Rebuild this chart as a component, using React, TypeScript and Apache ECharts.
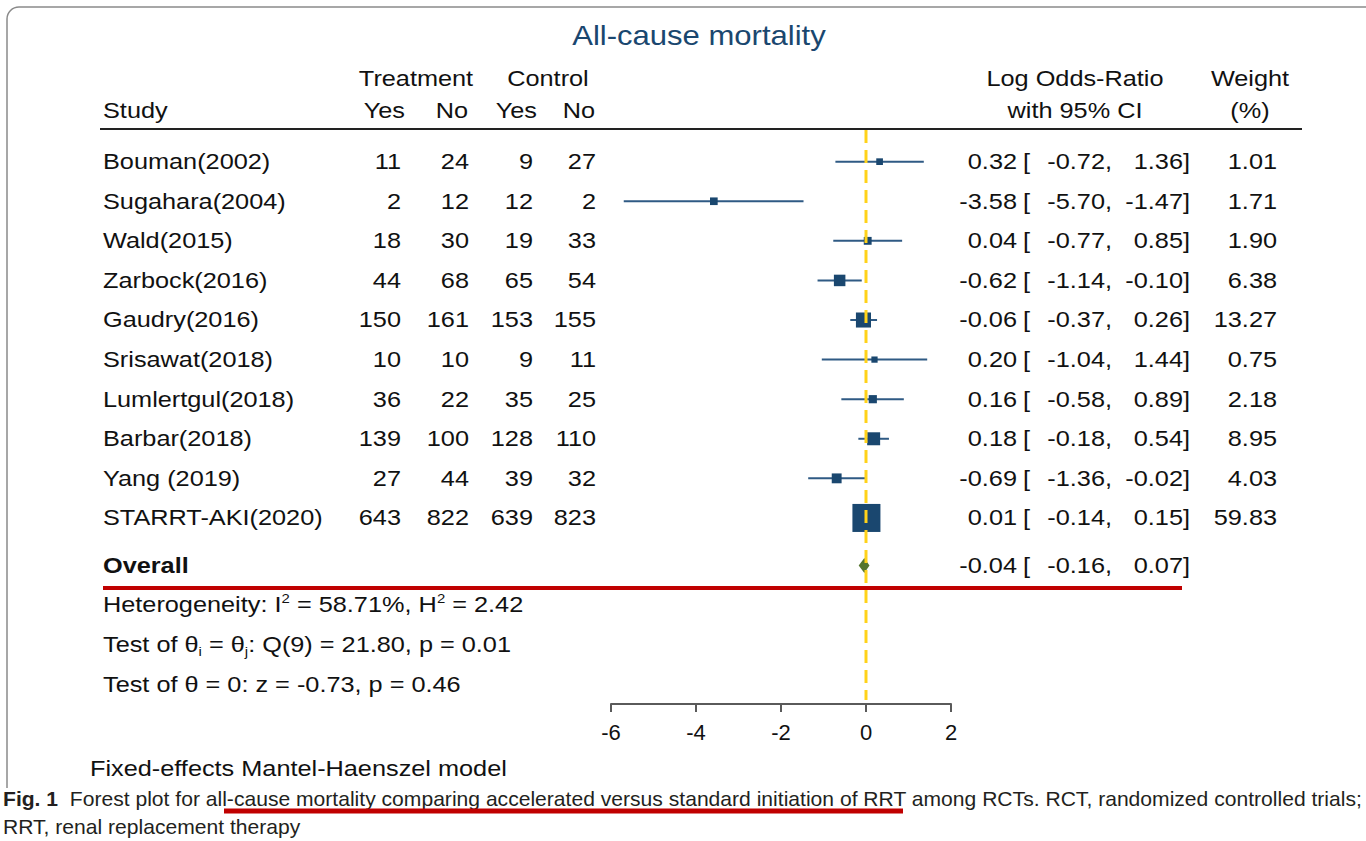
import React, { useEffect, useRef } from "react";
import * as echarts from "echarts";

// ---------- data ----------
const studies = [
  "Bouman(2002)",
  "Sugahara(2004)",
  "Wald(2015)",
  "Zarbock(2016)",
  "Gaudry(2016)",
  "Srisawat(2018)",
  "Lumlertgul(2018)",
  "Barbar(2018)",
  "Yang (2019)",
  "STARRT-AKI(2020)",
];
const treatYes = [11, 2, 18, 44, 150, 10, 36, 139, 27, 643];
const treatNo = [24, 12, 30, 68, 161, 10, 22, 100, 44, 822];
const ctrlYes = [9, 12, 19, 65, 153, 9, 35, 128, 39, 639];
const ctrlNo = [27, 2, 33, 54, 155, 11, 25, 110, 32, 823];
const logOR = [0.32, -3.58, 0.04, -0.62, -0.06, 0.2, 0.16, 0.18, -0.69, 0.01];
const ciLow = [-0.72, -5.7, -0.77, -1.14, -0.37, -1.04, -0.58, -0.18, -1.36, -0.14];
const ciHigh = [1.36, -1.47, 0.85, -0.1, 0.26, 1.44, 0.89, 0.54, -0.02, 0.15];
const weights = [1.01, 1.71, 1.9, 6.38, 13.27, 0.75, 2.18, 8.95, 4.03, 59.83];
const overallEst = -0.04;
const overallLow = -0.16;
const overallHigh = 0.07;
const xTicks = [-6, -4, -2, 0, 2];

// ---------- layout / style ----------
const FONT = "'Liberation Sans', Arial, Helvetica, sans-serif";
const SX = 1.15;
const CAP_SX = 1.055;
const OVERALL_ROW = 10.2;
const COL = {
  study: 103,
  ty: 401,
  tn: 469,
  cy: 533,
  cn: 596,
  est: 1017,
  br: 1023,
  lo: 1112,
  hi: 1190,
  w: 1277,
};
const NAVY = "#1a476f";

function txt(text: string, x: number, y: number, align: string, extra: any = {}, sx: number = SX) {
  return {
    type: "text",
    x,
    y,
    scaleX: sx,
    silent: true,
    style: {
      text,
      fontSize: 22,
      fontFamily: FONT,
      fill: "#111",
      align,
      textAlign: align,
      verticalAlign: "middle",
      textVerticalAlign: "middle",
      ...extra,
    },
  };
}

function valueCols(est: number, lo: number, hi: number, y: number) {
  return [
    txt(est.toFixed(2), COL.est, y, "right"),
    txt("[", COL.br, y, "left"),
    txt(lo.toFixed(2) + ",", COL.lo, y, "right"),
    txt(hi.toFixed(2) + "]", COL.hi, y, "right"),
  ];
}

export default function App() {
  const ref = useRef<HTMLDivElement>(null);

  useEffect(() => {
    if (!ref.current) return;
    const chart = echarts.init(ref.current, undefined, { renderer: "svg" });

    const richBase = {
      sup: { fontSize: 13, fontFamily: FONT, fill: "#111", color: "#111", verticalAlign: "top", lineHeight: 26 },
      sub: { fontSize: 13, fontFamily: FONT, fill: "#111", color: "#111", verticalAlign: "bottom", lineHeight: 26 },
    };

    const option: any = {
      animation: false,
      backgroundColor: "#ffffff",
      grid: { left: 611, width: 340, top: 130, height: 574, containLabel: false },
      xAxis: {
        type: "value",
        min: xTicks[0],
        max: xTicks[xTicks.length - 1],
        interval: 2,
        axisLine: { show: true, onZero: false, lineStyle: { color: "#5a5a5a", width: 2 } },
        axisTick: { show: true, length: 8, lineStyle: { color: "#5a5a5a", width: 2 } },
        axisLabel: { fontSize: 22, color: "#111", fontFamily: FONT, margin: 17 },
        splitLine: { show: false },
      },
      yAxis: { type: "value", min: -0.8, max: 13.7, inverse: true, show: false },
      series: [
        {
          type: "custom",
          name: "studies",
          coordinateSystem: "cartesian2d",
          clip: false,
          silent: true,
          z: 2,
          data: studies.map((_, i) => [logOR[i], i, ciLow[i], ciHigh[i], weights[i]]),
          encode: { x: [0, 2, 3], y: 1 },
          renderItem: (params: any, api: any) => {
            const est = api.value(0);
            const row = api.value(1);
            const lo = api.value(2);
            const hi = api.value(3);
            const w = api.value(4);
            const c = api.coord([est, row]);
            const l = api.coord([lo, row]);
            const h = api.coord([hi, row]);
            const s = 3.5 + 3.17 * Math.sqrt(w);
            return {
              type: "group",
              children: [
                { type: "line", shape: { x1: l[0], y1: c[1], x2: h[0], y2: c[1] }, style: { stroke: "#2f5a84", lineWidth: 2 } },
                { type: "rect", shape: { x: c[0] - s / 2, y: c[1] - s / 2, width: s, height: s }, style: { fill: NAVY } },
              ],
            };
          },
        },
        {
          type: "custom",
          name: "overall",
          coordinateSystem: "cartesian2d",
          clip: false,
          silent: true,
          z: 2,
          data: [[overallEst, OVERALL_ROW, overallLow, overallHigh]],
          encode: { x: [0, 2, 3], y: 1 },
          renderItem: (params: any, api: any) => {
            const row = api.value(1);
            const c = api.coord([api.value(0), row]);
            const l = api.coord([api.value(2), row]);
            const h = api.coord([api.value(3), row]);
            return {
              type: "polygon",
              shape: { points: [[l[0] - 0.5, c[1]], [c[0], c[1] - 7.5], [h[0] + 0.5, c[1]], [c[0], c[1] + 7.5]] },
              style: { fill: "#55752f" },
            };
          },
        },
        {
          type: "line",
          name: "null",
          silent: true,
          z: 5,
          symbol: "none",
          data: [[0, -0.8], [0, 13.6]],
          lineStyle: { color: "#ffd21a", width: 3, type: [13, 7] },
        },
        {
          type: "custom",
          name: "table",
          coordinateSystem: "cartesian2d",
          clip: false,
          silent: true,
          z: 3,
          data: studies.map((_, i) => [0, i]),
          encode: { x: 0, y: 1 },
          renderItem: (params: any, api: any) => {
            const i = params.dataIndex;
            const y = api.coord([0, api.value(1)])[1];
            return {
              type: "group",
              children: [
                txt(studies[i], COL.study, y, "left"),
                txt(String(treatYes[i]), COL.ty, y, "right"),
                txt(String(treatNo[i]), COL.tn, y, "right"),
                txt(String(ctrlYes[i]), COL.cy, y, "right"),
                txt(String(ctrlNo[i]), COL.cn, y, "right"),
                ...valueCols(logOR[i], ciLow[i], ciHigh[i], y),
                txt(weights[i].toFixed(2), COL.w, y, "right"),
              ],
            };
          },
        },
        {
          type: "custom",
          name: "overallText",
          coordinateSystem: "cartesian2d",
          clip: false,
          silent: true,
          z: 3,
          data: [[0, OVERALL_ROW]],
          encode: { x: 0, y: 1 },
          renderItem: (params: any, api: any) => {
            const y = api.coord([0, api.value(1)])[1];
            return {
              type: "group",
              children: [
                txt("Overall", COL.study, y, "left", { fontWeight: "bold" }),
                ...valueCols(overallEst, overallLow, overallHigh, y),
              ],
            };
          },
        },
      ],
      graphic: {
        elements: [
          // frame
          { type: "line", silent: true, shape: { x1: 7, y1: 788, x2: 7, y2: 19 }, style: { stroke: "#8a8a8a", lineWidth: 1.5 } },
          { type: "arc", silent: true, shape: { cx: 19, cy: 19, r: 12, startAngle: Math.PI, endAngle: Math.PI * 1.5, clockwise: true }, style: { stroke: "#8a8a8a", lineWidth: 1.5, fill: null } },
          { type: "line", silent: true, shape: { x1: 19, y1: 7, x2: 1366, y2: 7 }, style: { stroke: "#8a8a8a", lineWidth: 1.5 } },
          // title
          txt("All-cause mortality", 699, 36, "center", { fontSize: 27, fill: NAVY }),
          // headers
          txt("Treatment", 416, 79, "center"),
          txt("Control", 548, 79, "center"),
          txt("Study", COL.study, 111, "left"),
          txt("Yes", 405, 111, "right"),
          txt("No", 468, 111, "right"),
          txt("Yes", 537, 111, "right"),
          txt("No", 595, 111, "right"),
          txt("Log Odds-Ratio", 1075, 79, "center"),
          txt("with 95% CI", 1075, 111, "center"),
          txt("Weight", 1250, 79, "center"),
          txt("(%)", 1250, 111, "center"),
          { type: "line", silent: true, shape: { x1: 100, y1: 129, x2: 1302, y2: 129 }, style: { stroke: "#222", lineWidth: 2 } },
          // statistics
          txt("Heterogeneity: I{sup|2} = 58.71%, H{sup|2} = 2.42", COL.study, 605, "left", { rich: richBase }),
          txt("Test of θ{sub|i} = θ{sub|j}: Q(9) = 21.80, p = 0.01", COL.study, 645, "left", { rich: richBase }),
          txt("Test of θ = 0: z = -0.73, p = 0.46", COL.study, 685, "left"),
          txt("Fixed-effects Mantel-Haenszel model", 90, 769, "left"),
          // red annotation lines
          { type: "line", silent: true, z: 10, shape: { x1: 103, y1: 588, x2: 1182, y2: 588 }, style: { stroke: "#c00000", lineWidth: 4 } },
          // caption
          txt(
            "{b|Fig. 1}  Forest plot for all-cause mortality comparing accelerated versus standard initiation of RRT among RCTs. RCT, randomized controlled trials;",
            3,
            799,
            "left",
            {
              fontSize: 20,
              fill: "#231f20",
              rich: { b: { fontSize: 20, fontFamily: FONT, fontWeight: "bold", fill: "#231f20", color: "#231f20" } },
            },
            CAP_SX
          ),
          txt("RRT, renal replacement therapy", 3, 827, "left", { fontSize: 20, fill: "#231f20" }, CAP_SX),
          { type: "line", silent: true, z: 10, shape: { x1: 224, y1: 811, x2: 903, y2: 811 }, style: { stroke: "#c00000", lineWidth: 5 } },
        ],
      },
    };

    chart.setOption(option);
    return () => chart.dispose();
  }, []);

  return (
    <div
      ref={ref}
      style={{ position: "fixed", left: 0, top: 0, width: 1366, height: 841, background: "#fff" }}
    />
  );
}
